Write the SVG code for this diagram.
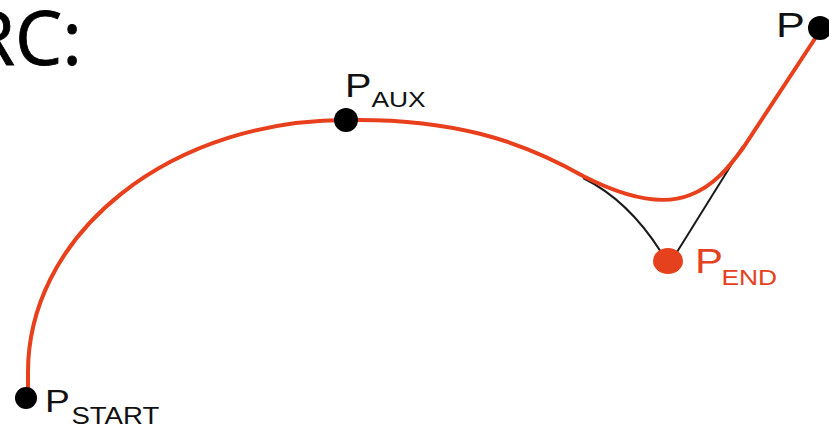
<svg xmlns="http://www.w3.org/2000/svg" width="829" height="429" viewBox="0 0 829 429">
<style>
.curve{fill:none;stroke:#e8401c;stroke-width:4;stroke-linecap:round}
.tan{fill:none;stroke:#1a1a1a;stroke-width:2}
.lbl{font-family:"Liberation Sans",Arial,sans-serif;fill:#111}
.red{fill:#e5411e}
.big{font-family:"Open Sans","Noto Sans",sans-serif;font-size:75px;fill:#000}
</style>
<rect width="829" height="429" fill="#fff"/>
<text class="big" x="82" y="65" text-anchor="end" stroke="#000" stroke-width="0.8">RC:</text>
<g id="connectors">
<path class="tan" d="M583,178 Q628,200 661,252"/>
<path class="tan" d="M677,252 L743,146"/>
<path class="curve" d="M28,398 L28,372 A318,252 0 0 1 346,120 C450,118 520,140 583,176 C630,200 665,205 690,195 C714,186 730,166 743,148 L822,28"/>
</g>
<g id="pstart">
<circle cx="26" cy="398" r="11" fill="#000"/>
<g transform="translate(45,412) scale(1.2,1)"><text class="lbl" font-size="31">P</text><text class="lbl" x="22" y="12" font-size="23">START</text></g>
</g>
<g id="paux">
<circle cx="346" cy="120" r="12" fill="#000"/>
<g transform="translate(345,97) scale(1.2,1)"><text class="lbl" font-size="33">P</text><text class="lbl" x="22" y="10" font-size="22">AUX</text></g>
</g>
<g id="pend">
<ellipse cx="668" cy="261" rx="15" ry="13" class="red"/>
<g transform="translate(695,273) scale(1.2,1)"><text class="lbl red" font-size="35">P</text><text class="lbl red" x="22" y="12" font-size="22">END</text></g>
</g>
<g id="pend2">
<circle cx="820" cy="28" r="12" fill="#000"/>
<g transform="translate(776,37) scale(1.2,1)"><text class="lbl" font-size="36">P</text></g>
</g>
</svg>
